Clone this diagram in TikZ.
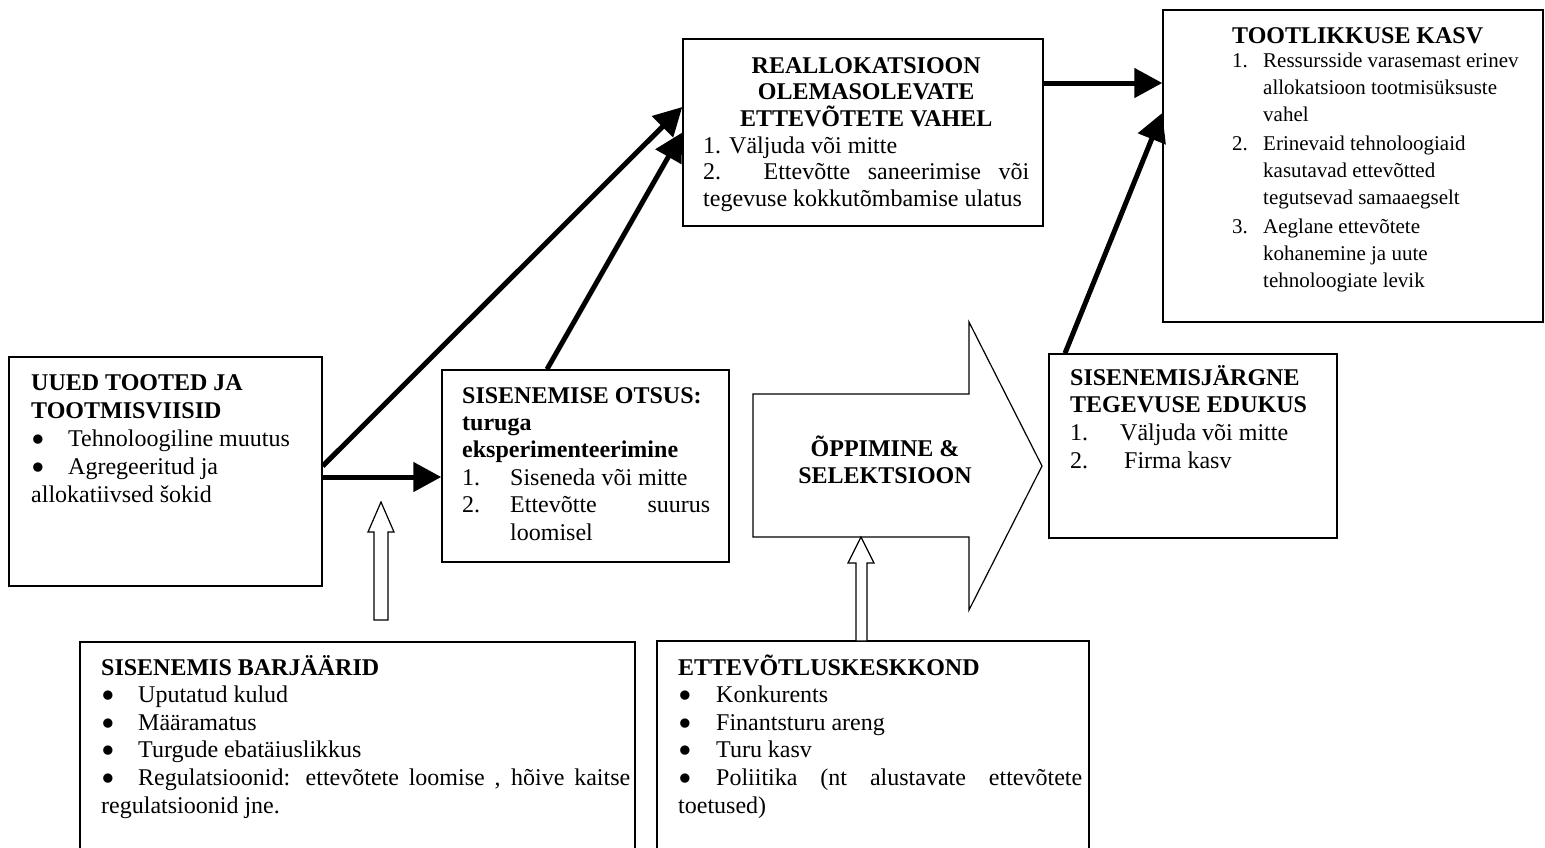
\documentclass[tikz,border=0pt]{standalone}
\usepackage{fontspec}
\setmainfont{Liberation Serif}
\usetikzlibrary{arrows.meta}
\newcommand\keepwords{\hyphenpenalty=10000 \exhyphenpenalty=10000 }
\newcommand\brk{\hfil\break}
\newcommand\bigdot{\smash{\raisebox{-6pt}{\fontsize{39}{26}\selectfont •}}}
\newcommand\numline[2]{\par\hangindent=#1\hangafter=1\noindent\makebox[#1][l]{#2}\ignorespaces}
\newcommand\bulline[1]{\par\noindent\makebox[#1][l]{\bigdot}\ignorespaces}

\begin{document}
\begin{tikzpicture}[x=1pt,y=-1pt,
  font=\fontsize{24}{26.7}\selectfont,
  every node/.append style={execute at begin node=\keepwords},
  box/.style={draw,line width=1.5pt,inner sep=0pt},
  txt/.style={anchor=base west,inner sep=0pt,align=justify},
  arr/.style={-{Triangle[length=28pt,width=29pt]},line width=5pt},
  hollow/.style={draw,fill=white,line width=1.2pt,line join=miter}]
\useasboundingbox (0,0) rectangle (1545,847);
% boxes
\node[box,minimum width=313pt,minimum height=229pt] (uued) at (165.5,471.5) {};
\node[box,minimum width=287pt,minimum height=192pt] (sis) at (585.5,466) {};
\node[box,minimum width=360pt,minimum height=187pt] (realloc) at (863,132.5) {};
\node[box,minimum width=380pt,minimum height=312pt] (tootl) at (1353,166) {};
\node[box,minimum width=288pt,minimum height=184pt] (jargne) at (1193,446) {};
\node[box,minimum width=555pt,minimum height=208pt] (barj) at (357.5,746) {};
\node[box,minimum width=432pt,minimum height=209pt] (keskk) at (873,745.5) {};
% texts
\node[txt,text width=326pt] (realloctxt) at (703,73) {{\centering\bfseries REALLOKATSIOON\\ OLEMASOLEVATE\\ ETTEVÕTETE VAHEL\par}
  1. Väljuda või mitte\brk 2. Ettevõtte saneerimise või\linebreak tegevuse kokkutõmbamise ulatus\par};
\node[txt,text width=300pt] (tootltxt) at (1232,43) {\textbf{TOOTLIKKUSE KASV}\par\vspace{-5pt}
  \fontsize{21}{26.7}\selectfont\parskip=3pt
  \numline{31pt}{1.}Ressursside varasemast erinev\brk allokatsioon tootmisüksuste\brk vahel
  \numline{31pt}{2.}Erinevaid tehnoloogiaid\brk kasutavad ettevõtted\brk tegutsevad samaaegselt
  \numline{31pt}{3.}Aeglane ettevõtete\brk kohanemine ja uute\brk tehnoloogiate levik\par};
\node[txt,text width=280pt,font=\fontsize{24}{28.2}\selectfont] (uuedtxt) at (31,390) {\textbf{UUED TOOTED JA}\brk \textbf{TOOTMISVIISID}
  \bulline{37pt}Tehnoloogiline muutus
  \bulline{37pt}Agregeeritud ja\brk allokatiivsed šokid\par};
\node[txt,text width=248pt,font=\fontsize{24}{27.4}\selectfont] (sistxt) at (462,403) {\textbf{SISENEMISE OTSUS:}\brk \textbf{turuga}\brk \textbf{eksperimenteerimine}
  \numline{48pt}{1.}Siseneda või mitte
  \numline{48pt}{2.}Ettevõtte suurus\linebreak loomisel\par};
\node[txt,text width=250pt,font=\fontsize{24}{27.7}\selectfont] (jargnetxt) at (1070,385) {\textbf{SISENEMISJÄRGNE}\brk \textbf{TEGEVUSE EDUKUS}
  \numline{50pt}{1.}Väljuda või mitte
  \numline{50pt}{2.}\hspace*{4pt}Firma kasv\par};
\node[txt,text width=529pt,font=\fontsize{24}{27.6}\selectfont] (barjtxt) at (101,675) {\textbf{SISENEMIS BARJÄÄRID}
  \bulline{37pt}Uputatud kulud
  \bulline{37pt}Määramatus
  \bulline{37pt}Turgude ebatäiuslikkus
  \bulline{37pt}Regulatsioonid: ettevõtete loomise , hõive kaitse\linebreak regulatsioonid jne.\par};
\node[txt,text width=404pt,font=\fontsize{24}{27.6}\selectfont] (keskktxt) at (678,675) {\textbf{ETTEVÕTLUSKESKKOND}
  \bulline{38pt}Konkurents
  \bulline{38pt}Finantsturu areng
  \bulline{38pt}Turu kasv
  \bulline{38pt}Poliitika (nt alustavate ettevõtete\linebreak toetused)\par};
% block arrows
\draw[hollow] (753,394) -- (969,394) -- (969,322) -- (1042,466) -- (969,610) -- (969,537) -- (753,537) -- cycle;
\node[font=\fontsize{24}{26.7}\selectfont\bfseries,align=center,inner sep=0pt] (learn) at (885,460) {ÕPPIMINE \&\\ SELEKTSIOON};
\draw[hollow] (856,641) -- (856,563) -- (848,563) -- (861,537) -- (874,563) -- (867,563) -- (867,641) -- cycle;
\draw[hollow] (374,620) -- (374,532) -- (368,532) -- (381,502) -- (394,532) -- (388,532) -- (388,620) -- cycle;
% connectors
\draw[arr] ([yshift=-5.5pt]uued.east) -- ([yshift=-11pt]sis.west);
\draw[arr] ([yshift=5.5pt]uued.east) -- ([yshift=25.5pt]realloc.west);
\draw[arr] ([xshift=-38.5pt]sis.north) -- (realloc.west);
\draw[arr] ([yshift=49.5pt]realloc.east) -- ([yshift=83pt]tootl.west);
\draw[arr] ([xshift=-128pt]jargne.north) -- ([yshift=53pt]tootl.west);
\end{tikzpicture}
\end{document}
